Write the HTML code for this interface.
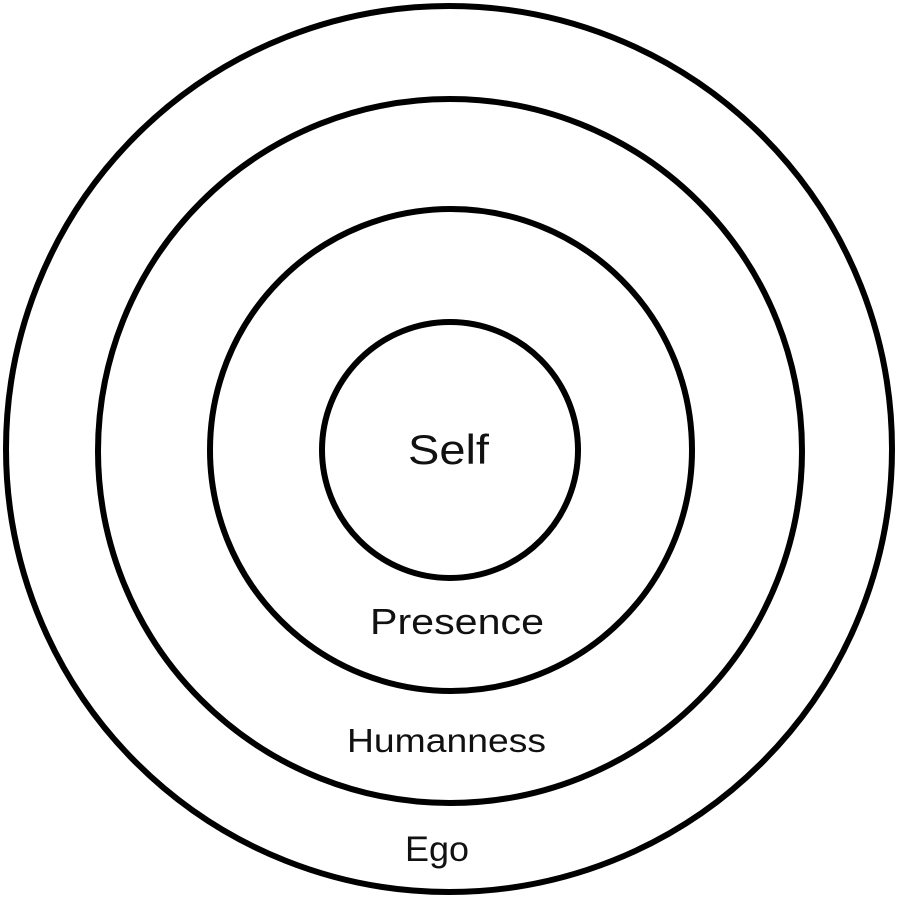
<!DOCTYPE html>
<html><head><style>html,body{margin:0;padding:0;background:#fff;}</style></head>
<body>
<svg width="900" height="900" viewBox="0 0 900 900" xmlns="http://www.w3.org/2000/svg">
<rect width="900" height="900" fill="#fff"/>
<g fill="none" stroke="#000" stroke-width="6">
<circle cx="449" cy="449" r="443"/>
<circle cx="450" cy="451" r="352"/>
<circle cx="451" cy="450" r="241"/>
<circle cx="450" cy="450" r="128"/>
</g>
<g font-family="Liberation Sans, sans-serif" fill="#111" lengthAdjust="spacingAndGlyphs">
<text x="408" y="464" font-size="42" textLength="81" lengthAdjust="spacingAndGlyphs">Self</text>
<text x="370" y="634" font-size="36" textLength="174" lengthAdjust="spacingAndGlyphs">Presence</text>
<text x="347" y="752" font-size="33" textLength="199" lengthAdjust="spacingAndGlyphs">Humanness</text>
<text x="405" y="861" font-size="35" textLength="64" lengthAdjust="spacingAndGlyphs">Ego</text>
</g>
</svg>
</body></html>
